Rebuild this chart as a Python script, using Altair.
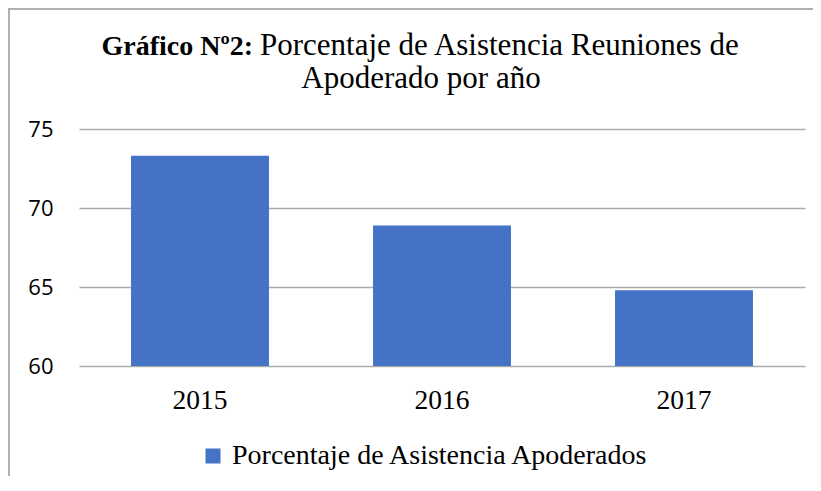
import altair as alt
import pandas as pd

# Data
years = ["2015", "2016", "2017"]
values = [73.3, 68.9, 64.8]
series_name = "Porcentaje de Asistencia Apoderados"
y_ticks = [60, 65, 70, 75]
y_min, y_max = 60, 75

title_bold = "Gráfico Nº2:"
title_rest = "Porcentaje de Asistencia Reuniones de"
title_line2 = "Apoderado por año"

df = pd.DataFrame({"year": years, "value": values, "serie": [series_name] * len(years)})

W, H = 726, 237
serif = "Liberation Serif"

bars = alt.Chart(df).mark_bar(color="#4472C4").encode(
    x=alt.X("year:N", title=None, sort=years,
            scale=alt.Scale(paddingInner=0.43, paddingOuter=0.215),
            axis=alt.Axis(labelAngle=0, labelFont=serif, labelFontSize=27.5,
                          labelColor="#000000", labelPadding=20, ticks=False,
                          domain=False, grid=False)),
    y=alt.Y("value:Q", title=None,
            scale=alt.Scale(domain=[y_min, y_max], zero=False, nice=False),
            axis=alt.Axis(values=y_ticks, labelFont="Open Sans", labelFontSize=22,
                          labelColor="#000000", labelPadding=26, ticks=False,
                          domain=False, grid=True, gridColor="#aaaaaa",
                          gridWidth=1.6)),
    y2=alt.Y2(datum=y_min),
    color=alt.Color("serie:N", scale=alt.Scale(range=["#4472C4"]),
                    legend=alt.Legend(title=None, orient="none", legendX=120,
                                      legendY=313, symbolType="square",
                                      symbolSize=225, symbolStrokeWidth=0,
                                      labelFont=serif, labelFontSize=28,
                                      labelColor="#000000", labelOffset=5,
                                      padding=0, labelLimit=800)),
)

t1 = alt.Chart(pd.DataFrame({"t": [title_bold]})).mark_text(
    font=serif, fontSize=28, fontWeight="bold", align="right",
    baseline="alphabetic", color="#000000"
).encode(text="t:N", x=alt.value(174), y=alt.value(-74))

t2 = alt.Chart(pd.DataFrame({"t": [title_rest]})).mark_text(
    font=serif, fontSize=31, align="left", baseline="alphabetic", color="#000000"
).encode(text="t:N", x=alt.value(181), y=alt.value(-74))

t3 = alt.Chart(pd.DataFrame({"t": [title_line2]})).mark_text(
    font=serif, fontSize=31, align="center", baseline="alphabetic", color="#000000"
).encode(text="t:N", x=alt.value(342), y=alt.value(-41))

border_left = alt.Chart(pd.DataFrame({"t": [0]})).mark_rule(
    color="#b0b0b0", strokeWidth=2
).encode(x=alt.value(-70), y=alt.value(-121), y2=alt.value(H + 120))

border_top = alt.Chart(pd.DataFrame({"t": [0]})).mark_rule(
    color="#b0b0b0", strokeWidth=2
).encode(x=alt.value(-70), x2=alt.value(W + 8), y=alt.value(-120))

chart = alt.layer(bars, t1, t2, t3, border_left, border_top).properties(
    width=W, height=H,
    background="white",
    autosize=alt.AutoSizeParams(type="none"),
    padding={"left": 71, "top": 121, "right": 8, "bottom": 110},
).configure_view(strokeWidth=0, stroke="transparent")

chart.save("out.html", embed_options={"renderer": "svg", "actions": False})
